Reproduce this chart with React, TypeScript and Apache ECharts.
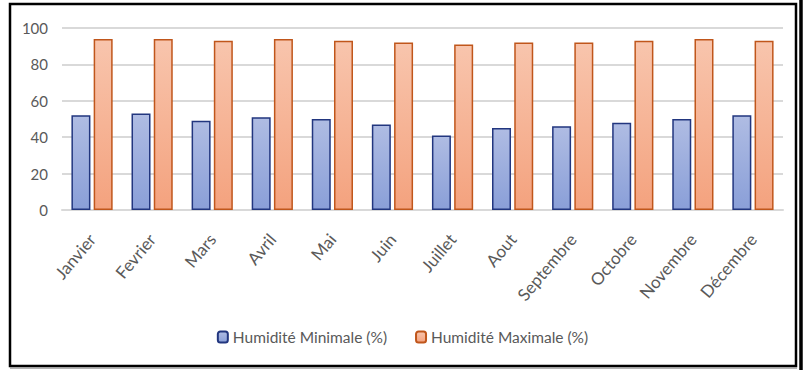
import React, { useEffect, useRef } from "react";
import * as echarts from "echarts";

const months = ["Janvier", "Fevrier", "Mars", "Avril", "Mai", "Juin", "Juillet", "Aout", "Septembre", "Octobre", "Novembre", "Décembre"];
const humMin = [52, 53, 49, 51, 50, 47, 41, 45, 46, 48, 50, 52];
const humMax = [94, 94, 93, 94, 93, 92, 91, 92, 92, 93, 94, 93];
const seriesNames = ["Humidité Minimale (%)", "Humidité Maximale (%)"];

const FONT = "Lato, 'Open Sans', sans-serif";

export default function App() {
  const ref = useRef<HTMLDivElement>(null);
  useEffect(() => {
    if (!ref.current) return;
    const chart = echarts.init(ref.current, null, { renderer: "svg" });
    const grad = (top: string, bottom: string) =>
      new echarts.graphic.LinearGradient(0, 0, 0, 1, [
        { offset: 0, color: top },
        { offset: 1, color: bottom },
      ]);
    chart.setOption({
      animation: false,
      backgroundColor: "#ffffff",
      textStyle: { fontFamily: FONT },
      grid: { left: 62, right: 22, top: 28, bottom: 160, containLabel: false },
      legend: {
        bottom: 20,
        left: "center",
        itemWidth: 10,
        itemHeight: 11,
        itemGap: 28,
        textStyle: { color: "#595959", fontSize: 15.5, fontFamily: FONT },
        data: seriesNames,
      },
      xAxis: {
        type: "category",
        data: months,
        axisTick: { show: false },
        axisLine: { show: true, lineStyle: { color: "#d9d9d9", width: 2 } },
        axisLabel: { rotate: 50, color: "#595959", fontSize: 17, margin: 26, fontFamily: FONT },
      },
      yAxis: {
        type: "value",
        min: 0,
        max: 100,
        interval: 20,
        axisLine: { show: false },
        axisTick: { show: false },
        splitLine: { lineStyle: { color: "#d9d9d9", width: 2 } },
        axisLabel: { color: "#595959", fontSize: 15, margin: 14, fontFamily: FONT },
      },
      series: [
        {
          name: seriesNames[0],
          type: "bar",
          data: humMin,
          barWidth: 19,
          barGap: "17%",
          itemStyle: { color: grad("#afbce3", "#8a9fd8"), borderColor: "#22367f", borderWidth: 1.5 },
        },
        {
          name: seriesNames[1],
          type: "bar",
          data: humMax,
          barWidth: 19,
          itemStyle: { color: grad("#f8c5ad", "#f4a27e"), borderColor: "#c0561b", borderWidth: 1.5 },
        },
      ],
      graphic: [
        {
          type: "rect",
          shape: { x: 10, y: 4, width: 786, height: 362 },
          style: { fill: "none", stroke: "#000000", lineWidth: 2.5 },
          silent: true,
        },
        {
          type: "line",
          shape: { x1: 801, y1: 0, x2: 801, y2: 370 },
          style: { stroke: "#000000", lineWidth: 3.5 },
          silent: true,
        },
        {
          type: "line",
          shape: { x1: 10, y1: 368, x2: 797, y2: 368 },
          style: { stroke: "#9a9a9a", lineWidth: 1.5 },
          silent: true,
        },
      ],
    });
    return () => chart.dispose();
  }, []);
  return (
    <div
      ref={ref}
      style={{ position: "fixed", left: 0, top: 0, width: 805, height: 370 }}
    />
  );
}
